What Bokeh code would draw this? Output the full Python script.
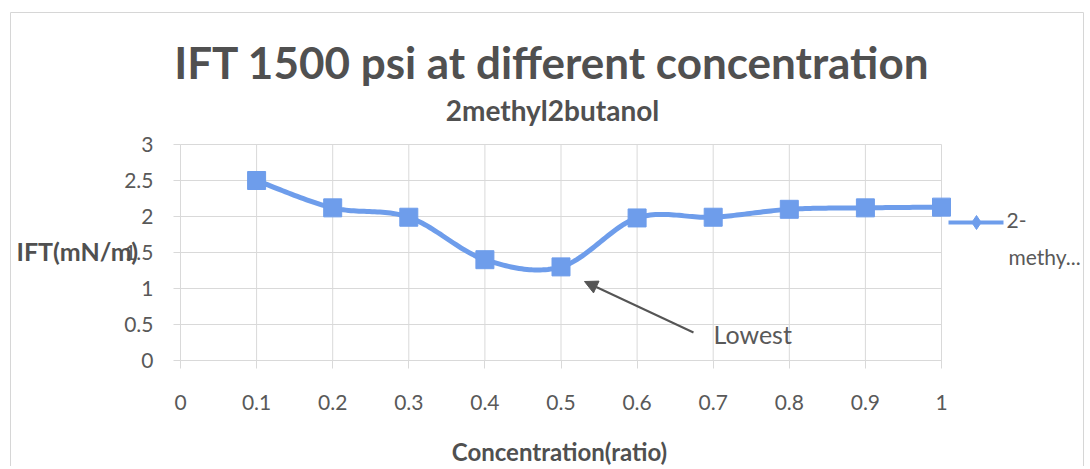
import numpy as np
from bokeh.plotting import figure
from bokeh.models import (Arrow, NormalHead, Range1d, FixedTicker, CustomJSTickFormatter, Label)
from bokeh.embed import file_html
from bokeh.resources import INLINE

# ---------------- data ----------------
concentration = [0.1, 0.2, 0.3, 0.4, 0.5, 0.6, 0.7, 0.8, 0.9, 1.0]
ift_values = [2.50, 2.12, 1.99, 1.40, 1.30, 1.98, 1.99, 2.10, 2.12, 2.13]
x_ticks = [0, 0.1, 0.2, 0.3, 0.4, 0.5, 0.6, 0.7, 0.8, 0.9, 1.0]
y_ticks = [0, 0.5, 1.0, 1.5, 2.0, 2.5, 3.0]
title_text = "IFT 1500 psi at different concentration"
subtitle_text = "2methyl2butanol"
x_title = "Concentration(ratio)"
y_title = "IFT(mN/m)"
legend_lines = ["2-", "methy..."]
note_text = "Lowest"

# ---------------- layout (page pixels; Bokeh's page has no body margin) ----------------
W, H, PAGE = 1088, 466, 0
PX_LEFT, PX_RIGHT = 180, 941     # page x of data x = 0 and x = 1
PX_BOTTOM, PX_TOP = 360, 144     # page y of data y = 0 and y = 3
XSPAN = x_ticks[-1] - x_ticks[0]
YSPAN = y_ticks[-1] - y_ticks[0]
KX = (PX_RIGHT - PX_LEFT) / XSPAN
KY = (PX_BOTTOM - PX_TOP) / YSPAN


def dx(px):
    return x_ticks[0] + (px - PX_LEFT) / KX


def dy(py):
    return y_ticks[0] + (PX_BOTTOM - py) / KY


SERIES = "#6e9deb"
TXT = "#595959"
DARK = "#505050"
GRID = "#d9d9d9"

p = figure(frame_width=W, frame_height=H, min_border=0, output_backend="svg",
           toolbar_location=None, title=None,
           x_range=Range1d(dx(PAGE), dx(PAGE + W)),
           y_range=Range1d(dy(PAGE + H), dy(PAGE)))
p.outline_line_color = None
p.background_fill_color = "white"
p.border_fill_color = "white"
p.grid.visible = False

fmt = CustomJSTickFormatter(code="return String(parseFloat(tick.toFixed(2)));")

for ax in (p.xaxis[0], p.yaxis[0]):
    ax.fixed_location = 0
    ax.formatter = fmt
    ax.major_label_text_font = "Lato"
    ax.major_label_text_font_size = "21px"
    ax.major_label_text_color = TXT
    ax.major_tick_in = 0
    ax.minor_tick_line_color = None
    ax.major_tick_line_color = GRID

p.xaxis.ticker = FixedTicker(ticks=x_ticks)
p.yaxis.ticker = FixedTicker(ticks=y_ticks)
p.xaxis.bounds = (x_ticks[0], x_ticks[-1])
p.yaxis.bounds = (y_ticks[0], y_ticks[-1])
p.xaxis.axis_line_color = GRID
p.xaxis.major_tick_out = 8
p.xaxis.major_label_standoff = 26
p.yaxis.axis_line_color = None
p.yaxis.major_tick_out = 7
p.yaxis.major_label_standoff = 20

# gridlines confined to the plot area
p.segment(x0=x_ticks, x1=x_ticks, y0=[y_ticks[0]] * len(x_ticks), y1=[y_ticks[-1]] * len(x_ticks),
          line_color=GRID, line_width=1, level="underlay")
p.segment(x0=[x_ticks[0]] * len(y_ticks), x1=[x_ticks[-1]] * len(y_ticks), y0=y_ticks, y1=y_ticks,
          line_color=GRID, line_width=1, level="underlay")


# ---------------- smoothed series line ----------------
def smooth(xs, ys, n=30):
    xs = np.asarray(xs, float)
    ys = np.asarray(ys, float)
    px, py = [xs[0]], [ys[0]]
    m = len(xs)
    for i in range(m - 1):
        xa, ya = xs[max(i - 1, 0)], ys[max(i - 1, 0)]
        xb, yb = xs[i], ys[i]
        xc, yc = xs[i + 1], ys[i + 1]
        xd, yd = xs[min(i + 2, m - 1)], ys[min(i + 2, m - 1)]
        c1x, c1y = xb + (xc - xa) / 6, yb + (yc - ya) / 6
        c2x, c2y = xc - (xd - xb) / 6, yc - (yd - yb) / 6
        t = np.linspace(0, 1, n)[1:]
        a = (1 - t) ** 3
        b = 3 * (1 - t) ** 2 * t
        c = 3 * (1 - t) * t ** 2
        d = t ** 3
        px.extend(a * xb + b * c1x + c * c2x + d * xc)
        py.extend(a * yb + b * c1y + c * c2y + d * yc)
    return px, py


sx, sy = smooth(concentration, ift_values)
p.line(sx, sy, line_color=SERIES, line_width=5, line_join="round", line_cap="round")
p.scatter(concentration, ift_values, marker="square", size=18,
          fill_color=SERIES, line_color=SERIES)


# ---------------- texts ----------------
def text(px, py_base, s, size, bold=False, align="left", color=DARK):
    # py_base: page y of the text baseline; anchor the label at its middle
    mid = py_base - 0.387 * size
    p.add_layout(Label(x=dx(px), y=dy(mid), text=s, text_align=align,
                       text_baseline="middle", text_font="Lato",
                       text_font_style="bold" if bold else "normal",
                       text_font_size=f"{size}px", text_color=color))


text(551.5, 79, title_text, 44, bold=True, align="center")
text(552, 120, subtitle_text, 28, bold=True, align="center")
text(559, 460, x_title, 24, bold=True, align="center")
text(16, 260, y_title, 25, bold=True)

# annotation arrow + note
p.add_layout(Arrow(x_start=dx(693), y_start=dy(332), x_end=dx(584), y_end=dy(281),
                   line_color="#555555", line_width=2,
                   end=NormalHead(size=13, fill_color="#555555", line_color="#555555")))
text(713, 343, note_text, 25, color=TXT)

# legend key (line + diamond) and wrapped series name
p.add_layout(Arrow(x_start=dx(948), y_start=dy(222), x_end=dx(1003), y_end=dy(222),
                   end=None, line_color=SERIES, line_width=4))
p.scatter([dx(976)], [dy(222)], marker="diamond", size=14,
          fill_color=SERIES, line_color=SERIES)
text(1006, 228.5, legend_lines[0], 21, color=TXT)
text(1008, 264.5, legend_lines[1], 21, color=TXT)

# chart border (top, left, right edges visible in the window)
p.line([dx(10), dx(10), dx(1083), dx(1083)], [dy(480), dy(12), dy(12), dy(480)],
       line_color="#d6d6d6", line_width=1)

open("out.html", "w").write(file_html(p, INLINE))
